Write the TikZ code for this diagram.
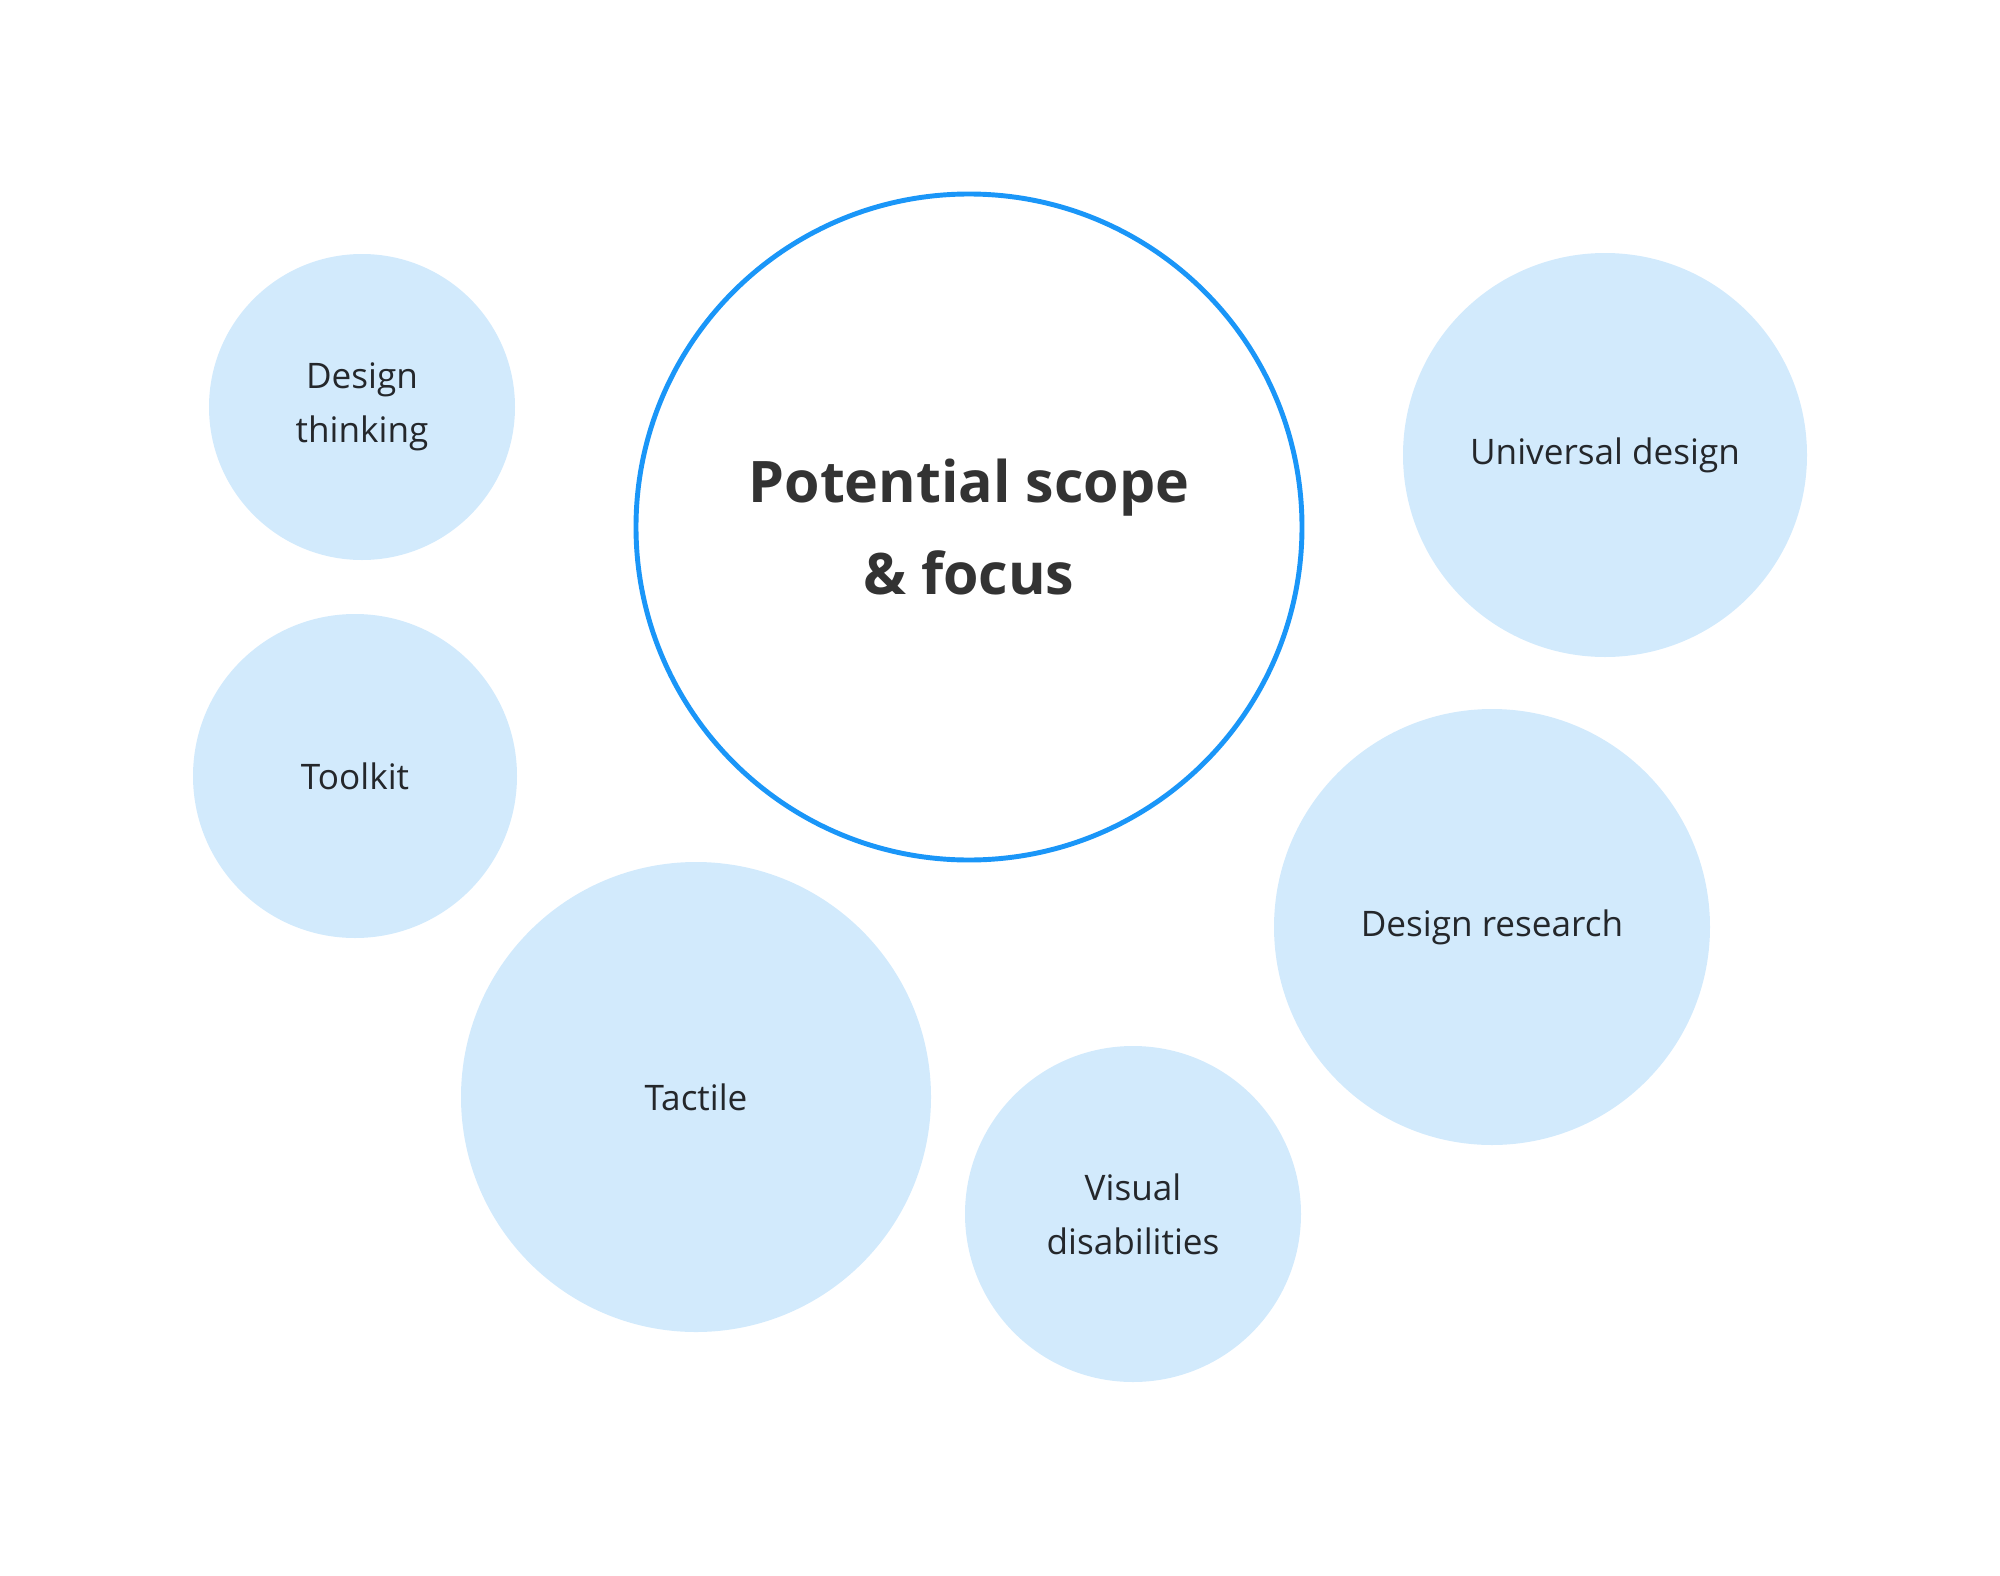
\documentclass[tikz,border=0pt]{standalone}
\usepackage{fontspec}
\setmainfont{Open Sans}
\definecolor{bubblefill}{HTML}{D2EAFC}
\definecolor{scopeblue}{HTML}{1A96F8}
\definecolor{labelgray}{HTML}{24272B}

\begin{document}
\begin{tikzpicture}[x=1cm,y=1cm]
    \tikzstyle{bubble}=[circle,inner sep=0pt,align=center,text=labelgray,font=\fontsize{10}{15.4}\selectfont]
    \tikzstyle{topic}=[bubble,fill=bubblefill]
    \tikzstyle{scope}=[bubble,fill=white,draw=scopeblue,line width=1.4pt,text=black!80,font=\fontsize{16.3}{25.9}\selectfont\bfseries]

    \useasboundingbox (0,0) rectangle (20,-15.76);

    % The central circle
    \node[scope,minimum size=6.66cm] (focus) at (9.69,-5.27) {Potential scope\\\& focus};

    % Draw the topics around it
    \foreach \name/\x/\y/\r/\txt in {think/3.62/-4.07/1.53/{Design\\thinking},
                                     toolkit/3.55/-7.76/1.62/{Toolkit},
                                     tactile/6.96/-10.97/2.35/{Tactile},
                                     visual/11.33/-12.14/1.68/{Visual\\disabilities},
                                     research/14.92/-9.27/2.18/{Design research},
                                     universal/16.05/-4.55/2.02/{Universal design}}
        \node[topic,minimum size=2*\r cm] (\name) at (\x,\y) {\txt};
\end{tikzpicture}
\end{document}
